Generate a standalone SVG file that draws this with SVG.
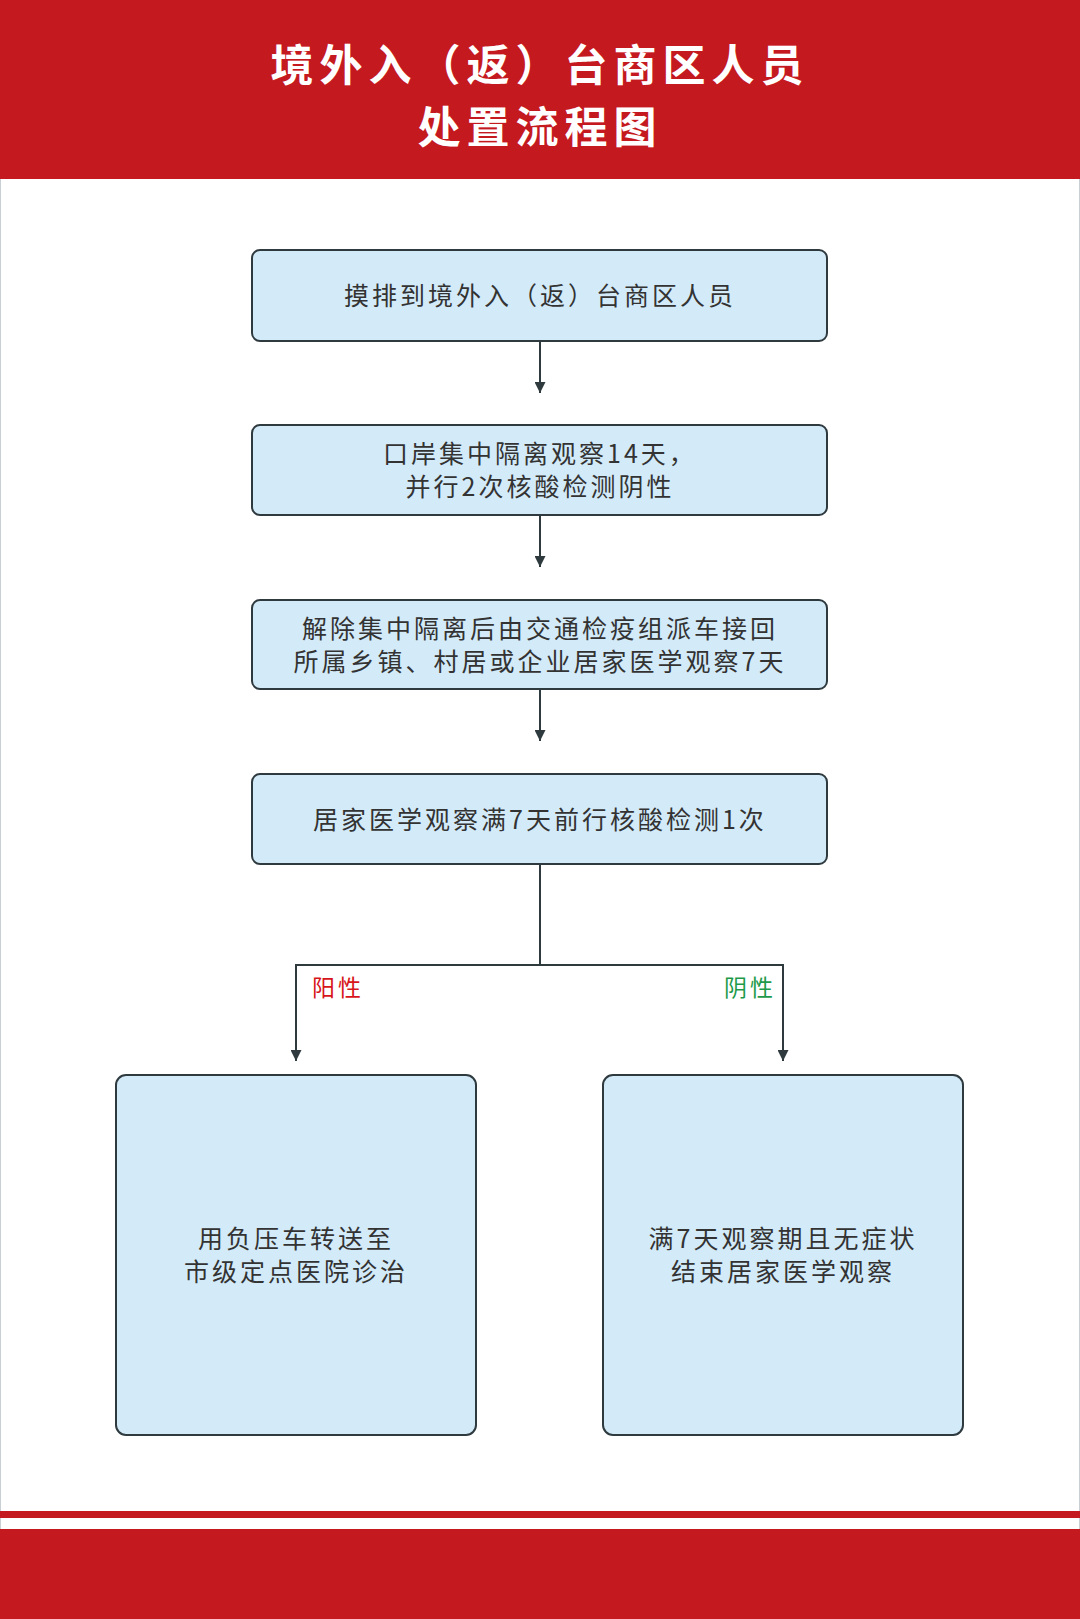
<svg xmlns="http://www.w3.org/2000/svg" width="1080" height="1619" viewBox="0 0 1080 1619">
<style>
.box{fill:#d3ebf9;stroke:#2f3a3f;stroke-width:2}
.t{font-family:"Noto Sans CJK SC","Noto Sans",sans-serif;font-size:25px;fill:#333;text-anchor:middle;letter-spacing:3px}
.h{font-family:"Noto Sans CJK SC",sans-serif;font-size:43px;font-weight:bold;fill:#fff;text-anchor:middle;letter-spacing:6px}
.c{fill:none;stroke:#2f3a3f;stroke-width:2}
</style>
<defs><marker id="a" viewBox="0 0 10 10" refX="10" refY="5" markerWidth="11" markerHeight="11" orient="auto" markerUnits="userSpaceOnUse"><path d="M0,0L10,5L0,10z" fill="#2f3a3f"/></marker></defs>
<rect width="1080" height="1619" fill="#fff"/>
<rect x="0.5" y="0" width="1079" height="1619" fill="none" stroke="#c8d0d6" stroke-width="1"/>
<g id="header"><rect width="1080" height="179" fill="#c4191f"/>
<text class="h" x="540" y="81">境外入（返）台商区人员</text>
<text class="h" x="540" y="143">处置流程图</text></g>
<g id="footer"><rect y="1511" width="1080" height="7" fill="#c4191f"/><rect y="1529" width="1080" height="90" fill="#c4191f"/></g>
<g id="n1"><rect class="box" x="252" y="250" width="575" height="91" rx="8"/><text class="t" x="540" y="305">摸排到境外入（返）台商区人员</text></g>
<g id="n2"><rect class="box" x="252" y="425" width="575" height="90" rx="8"/><text class="t" x="540" y="463">口岸集中隔离观察14天，</text><text class="t" x="540" y="496">并行2次核酸检测阴性</text></g>
<g id="n3"><rect class="box" x="252" y="600" width="575" height="89" rx="8"/><text class="t" x="540" y="638">解除集中隔离后由交通检疫组派车接回</text><text class="t" x="540" y="671">所属乡镇、村居或企业居家医学观察7天</text></g>
<g id="n4"><rect class="box" x="252" y="774" width="575" height="90" rx="8"/><text class="t" x="540" y="829">居家医学观察满7天前行核酸检测1次</text></g>
<g id="n5"><rect class="box" x="116" y="1075" width="360" height="360" rx="10"/><text class="t" x="296" y="1248">用负压车转送至</text><text class="t" x="296" y="1281">市级定点医院诊治</text></g>
<g id="n6"><rect class="box" x="603" y="1075" width="360" height="360" rx="10"/><text class="t" x="783" y="1248">满7天观察期且无症状</text><text class="t" x="783" y="1281">结束居家医学观察</text></g>
<g id="connectors">
<path class="c" d="M540,341V393" marker-end="url(#a)"/>
<path class="c" d="M540,515V567" marker-end="url(#a)"/>
<path class="c" d="M540,689V741" marker-end="url(#a)"/>
<path class="c" d="M540,864V965H296V1061" marker-end="url(#a)"/>
<path class="c" d="M540,965H783V1061" marker-end="url(#a)"/>
<text x="338" y="996" style="font-family:'Noto Sans CJK SC',sans-serif;font-size:23px;fill:#d7141a;text-anchor:middle;letter-spacing:3px">阳性</text>
<text x="750" y="996" style="font-family:'Noto Sans CJK SC',sans-serif;font-size:23px;fill:#1e9a4a;text-anchor:middle;letter-spacing:3px">阴性</text>
</g>
</svg>
